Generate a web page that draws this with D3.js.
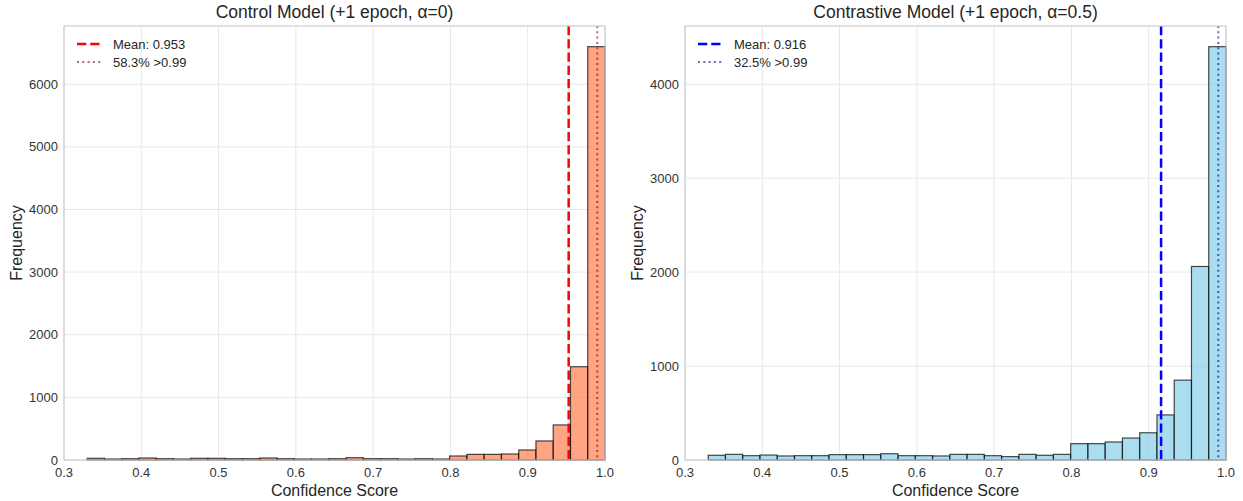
<!DOCTYPE html>
<html>
<head>
<meta charset="utf-8">
<script src="https://cdn.jsdelivr.net/npm/d3@7"></script>
<style>
  body { margin: 0; background: #fff; }
  svg { font-family: "Liberation Sans", Arial, sans-serif; }
</style>
</head>
<body>
<svg id="chart" width="1243" height="501"></svg>
<script>
// bins: 30 equal bins from 0.33 to 1.0
const binStart = 0.33, binEnd = 1.0, binCount = 30;
const xTicks = [0.3, 0.4, 0.5, 0.6, 0.7, 0.8, 0.9, 1.0];

// control model counts per bin
const controlCounts = [27, 16, 21, 32, 21, 16, 27, 27, 21, 21,
                       32, 21, 16, 16, 21, 37, 21, 21, 16, 21,
                       16, 64, 90, 90, 96, 160, 304, 560, 1490, 6600];
// contrastive model counts per bin
const contrastCounts = [50, 60, 46, 53, 43, 46, 46, 57, 57, 57,
                        67, 46, 46, 43, 60, 60, 46, 36, 60, 50,
                        60, 174, 174, 192, 234, 290, 480, 850, 2060, 4400];

const controlMean = 0.953, contrastMean = 0.916;
const threshold = 0.99;
const controlYTicks = [0, 1000, 2000, 3000, 4000, 5000, 6000];
const contrastYTicks = [0, 1000, 2000, 3000, 4000];

const svg = d3.select("#chart");
const plotTop = 26, plotBottom = 460;

function drawPanel(opts) {
  const x = d3.scaleLinear().domain([0.3, 1.0]).range([opts.left, opts.right]);
  const ymax = d3.max(opts.counts) * 1.05;
  const y = d3.scaleLinear().domain([0, ymax]).range([plotBottom, plotTop]);
  const g = svg.append("g");

  // grid
  g.selectAll(".gx").data(xTicks).enter().append("line")
    .attr("x1", d => x(d)).attr("x2", d => x(d))
    .attr("y1", plotTop).attr("y2", plotBottom)
    .attr("stroke", "#e8e8e8").attr("stroke-width", 1);
  g.selectAll(".gy").data(opts.yTicks).enter().append("line")
    .attr("x1", opts.left).attr("x2", opts.right)
    .attr("y1", d => y(d)).attr("y2", d => y(d))
    .attr("stroke", "#e8e8e8").attr("stroke-width", 1);

  const w = (binEnd - binStart) / binCount;
  const bins = opts.counts.map((c, i) => ({x0: binStart + i * w, x1: binStart + (i + 1) * w, c: c}));

  g.selectAll(".bar").data(bins).enter().append("rect")
    .attr("x", d => x(d.x0))
    .attr("y", d => y(d.c))
    .attr("width", d => x(d.x1) - x(d.x0))
    .attr("height", d => y(0) - y(d.c))
    .attr("fill", opts.fill)
    .attr("fill-opacity", 0.7)
    .attr("stroke", "#000")
    .attr("stroke-opacity", 0.7)
    .attr("stroke-width", 1.2);

  // mean line
  g.append("line")
    .attr("x1", x(opts.mean)).attr("x2", x(opts.mean))
    .attr("y1", plotTop).attr("y2", plotBottom)
    .attr("stroke", opts.meanColor).attr("stroke-width", 2.5)
    .attr("stroke-dasharray", "9.25,4");
  // threshold line
  g.append("line")
    .attr("x1", x(threshold)).attr("x2", x(threshold))
    .attr("y1", plotTop).attr("y2", plotBottom)
    .attr("stroke", opts.dotColor).attr("stroke-opacity", 0.6).attr("stroke-width", 2)
    .attr("stroke-dasharray", "2,3.3");

  // frame
  g.append("rect")
    .attr("x", opts.left).attr("y", plotTop)
    .attr("width", opts.right - opts.left).attr("height", plotBottom - plotTop)
    .attr("fill", "none").attr("stroke", "#cccccc").attr("stroke-width", 1.2);

  // tick labels
  g.selectAll(".tx").data(xTicks).enter().append("text")
    .attr("x", d => x(d)).attr("y", plotBottom + 17)
    .attr("text-anchor", "middle").attr("font-size", 13).attr("fill", "#333")
    .text(d => d3.format(".1f")(d));
  g.selectAll(".ty").data(opts.yTicks).enter().append("text")
    .attr("x", opts.left - 6).attr("y", d => y(d) + 4.5)
    .attr("text-anchor", "end").attr("font-size", 13).attr("fill", "#333")
    .text(d => d);

  // labels
  g.append("text").attr("x", (opts.left + opts.right) / 2).attr("y", 18)
    .attr("text-anchor", "middle").attr("font-size", 17.5).attr("fill", "#262626")
    .text(opts.title);
  g.append("text").attr("x", (opts.left + opts.right) / 2).attr("y", 496)
    .attr("text-anchor", "middle").attr("font-size", 16).attr("fill", "#262626")
    .text("Confidence Score");
  g.append("text")
    .attr("transform", `translate(${opts.left - 42},${(plotTop + plotBottom) / 2}) rotate(-90)`)
    .attr("text-anchor", "middle").attr("font-size", 16).attr("fill", "#262626")
    .text("Frequency");

  // legend
  const lx = opts.left + 13;
  g.append("line").attr("x1", lx).attr("x2", lx + 25).attr("y1", 44).attr("y2", 44)
    .attr("stroke", opts.meanColor).attr("stroke-width", 2.5).attr("stroke-dasharray", "9.25,4");
  g.append("line").attr("x1", lx).attr("x2", lx + 25).attr("y1", 62).attr("y2", 62)
    .attr("stroke", opts.dotColor).attr("stroke-opacity", 0.6).attr("stroke-width", 2).attr("stroke-dasharray", "2,3.3");
  g.append("text").attr("x", lx + 36).attr("y", 48.5).attr("font-size", 13).attr("fill", "#262626")
    .text("Mean: " + opts.mean.toFixed(3));
  g.append("text").attr("x", lx + 36).attr("y", 66.5).attr("font-size", 13).attr("fill", "#262626")
    .text(opts.pctLabel);
}

drawPanel({left: 64, right: 605, counts: controlCounts, yTicks: controlYTicks,
  fill: "coral", mean: controlMean, meanColor: "red", dotColor: "darkred",
  title: "Control Model (+1 epoch, α=0)", pctLabel: "58.3% >0.99"});
drawPanel({left: 685, right: 1226, counts: contrastCounts, yTicks: contrastYTicks,
  fill: "skyblue", mean: contrastMean, meanColor: "blue", dotColor: "darkblue",
  title: "Contrastive Model (+1 epoch, α=0.5)", pctLabel: "32.5% >0.99"});
</script>
</body>
</html>
